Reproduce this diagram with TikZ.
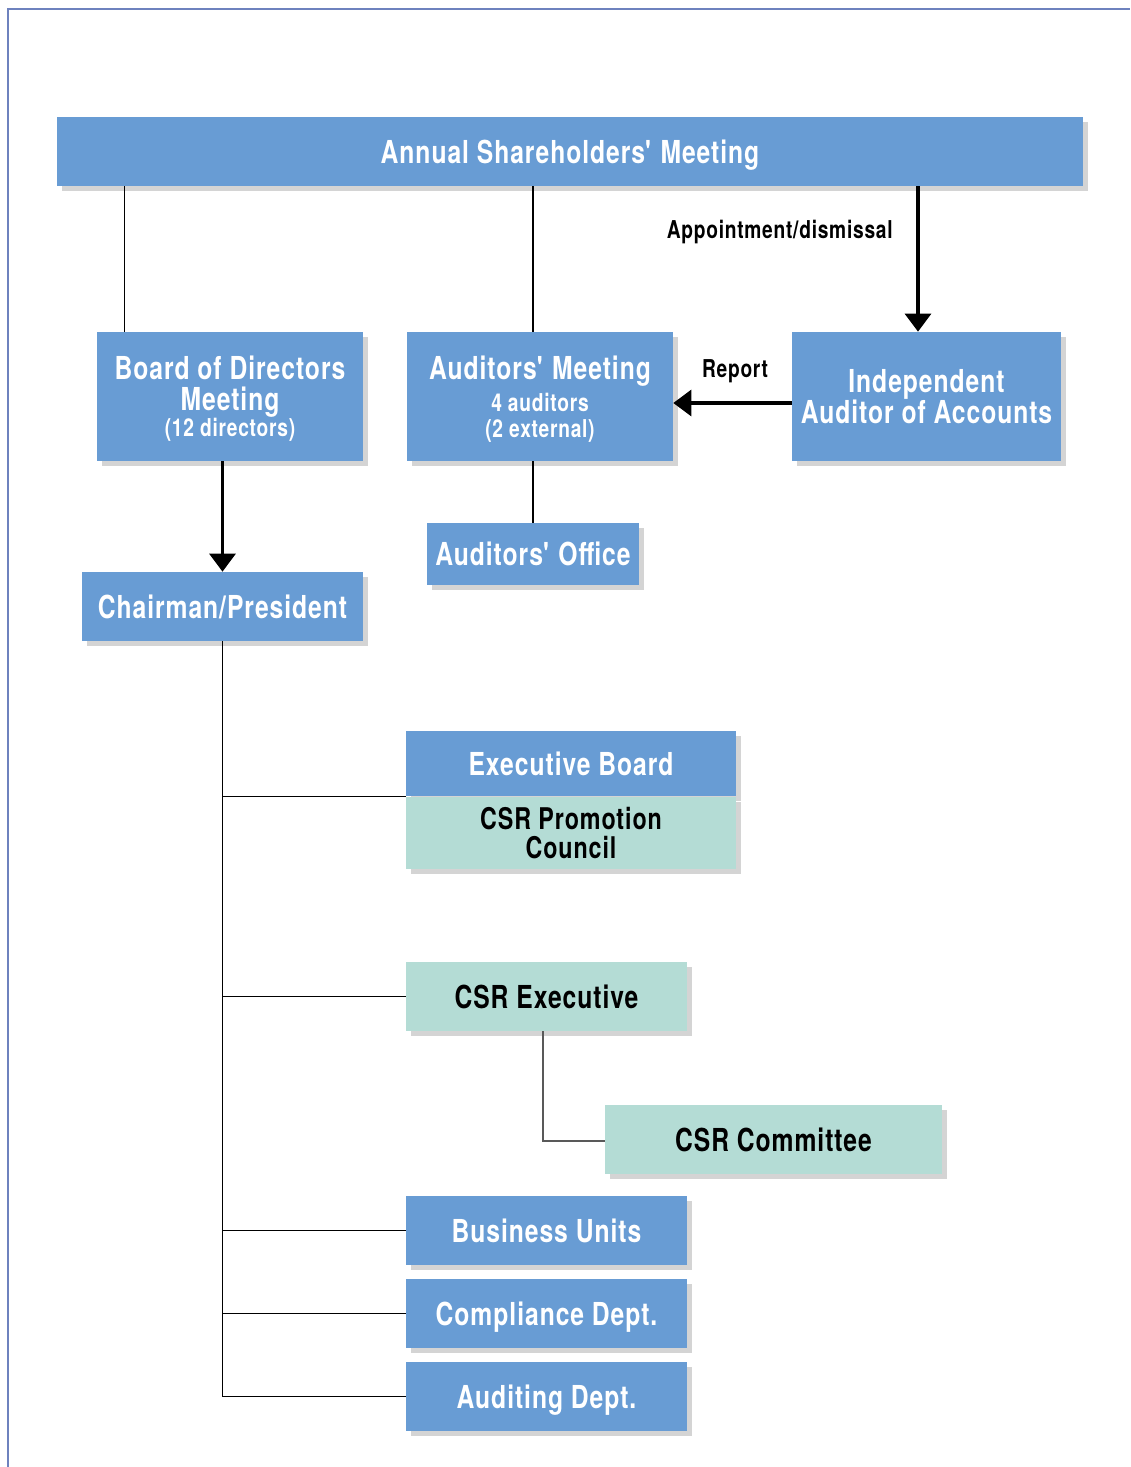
\documentclass[tikz,border=0pt]{standalone}
\usepackage{fontspec}
\setmainfont{TeX Gyre Heros}[FakeStretch=0.78, LetterSpace=3]
\usetikzlibrary{arrows.meta, positioning, shadows, calc}
\definecolor{orgblue}{RGB}{104,156,212}
\definecolor{orgteal}{RGB}{180,220,213}
\definecolor{framecol}{RGB}{110,130,190}
\newcommand\boxfont{\fontsize{18}{17.6}\selectfont\bfseries}
\newcommand\subfont{\fontsize{14}{14.7}\selectfont\bfseries}
\newcommand\lblfont{\fontsize{14}{15}\selectfont\bfseries}
\newcommand\q{\textquotesingle}
\tikzset{
  orgbox/.style={rectangle, fill=#1, inner sep=2pt, align=center,
                 font=\boxfont, text depth=0pt,
                 drop shadow={shadow xshift=0.1cm, shadow yshift=-0.1cm,
                              fill=black!17, opacity=1}},
  bluebox/.style={orgbox=orgblue, text=white},
  tealbox/.style={orgbox=orgteal, text=black},
  thinline/.style={draw=black, line width=0.6pt},
  greyline/.style={draw=black!65, line width=0.9pt},
  arrowthick/.style={-{Triangle[length=0.36cm, width=0.52cm]}, line width=1.8pt},
  lbl/.style={font=\lblfont, text=black, inner sep=0pt},
}
\begin{document}
\begin{tikzpicture}[x=0.02cm, y=-0.02cm]
  \useasboundingbox (0,0) rectangle (1130,1467);
  \draw[framecol, line width=1pt] (8,1467) -- (8,9) -- (1130,9);

  % top level
  \node[bluebox, minimum width=20.52cm, minimum height=1.38cm] (annual) at (570,151.5)
    {Annual Shareholders\q{} Meeting};

  \node[bluebox, minimum width=5.32cm, minimum height=2.58cm] (board) at (230,396.5)
    {Board of Directors\\Meeting\\[-3pt]{\subfont (12 directors)}};
  \node[bluebox, minimum width=5.32cm, minimum height=2.58cm] (auditors) at (540,396.5)
    {Auditors\q{} Meeting\\[1pt]{\subfont 4 auditors}\\[-3pt]{\subfont (2 external)}};
  \node[bluebox, minimum width=5.38cm, minimum height=2.58cm] (indep) at (926.5,396.5)
    {Independent\\Auditor of Accounts};
  \node[bluebox, minimum width=4.24cm, minimum height=1.24cm] (office) at (533,554)
    {Auditors\q{} Office};
  \node[bluebox, minimum width=5.62cm, minimum height=1.38cm] (chair) at (222.5,606.5)
    {Chairman/President};

  % executive side
  \node[bluebox, minimum width=6.6cm, minimum height=1.3cm] (execboard) at (571,763.5)
    {Executive Board};
  \node[tealbox, minimum width=6.6cm, minimum height=1.44cm, below=0pt of execboard,
        font=\fontsize{17}{16.4}\selectfont\bfseries] (csrpromo)
    {CSR Promotion\\Council};
  \node[tealbox, minimum width=5.62cm, minimum height=1.38cm] (csrexec) at (546.5,996.5)
    {CSR Executive};
  \node[tealbox, minimum width=6.74cm, minimum height=1.38cm] (committee) at (773.5,1139.5)
    {CSR Committee};
  \node[bluebox, minimum width=5.62cm, minimum height=1.38cm] (units) at (546.5,1230.5)
    {Business Units};
  \node[bluebox, minimum width=5.62cm, minimum height=1.38cm] (compliance) at (546.5,1313.5)
    {Compliance Dept.};
  \node[bluebox, minimum width=5.62cm, minimum height=1.38cm] (auditing) at (546.5,1396.5)
    {Auditing Dept.};

  % labels
  \node[lbl, anchor=east] (apptlbl) at (893,232) {Appointment/dismissal};
  \node[lbl] (reportlbl) at (735,371) {Report};

  % connectors
  \draw[thinline] ([xshift=0.56cm]board.north west) -- ([xshift=0.56cm]board.north west |- annual.south);
  \draw[thinline] (annual.south -| office.north) -- (auditors.north -| office.north);
  \draw[thinline] (auditors.south -| office.north) -- (office.north);
  \draw[arrowthick] ([xshift=-0.17cm]annual.south -| indep.north) -- ([xshift=-0.17cm]indep.north);
  \draw[arrowthick] ([yshift=-0.13cm]indep.west) -- ([yshift=-0.13cm]auditors.east);
  \draw[arrowthick] (board.south -| chair.north) -- (chair.north);

  \draw[thinline] (chair.south) |- (execboard.south west);
  \draw[thinline] (chair.south) |- (csrexec.west);
  \draw[thinline] (chair.south) |- (units.west);
  \draw[thinline] (chair.south) |- (compliance.west);
  \draw[thinline] (chair.south) |- (auditing.west);
  \draw[greyline] ([xshift=-0.07cm]csrexec.south) |- ([yshift=-0.03cm]committee.west);
\end{tikzpicture}
\end{document}
